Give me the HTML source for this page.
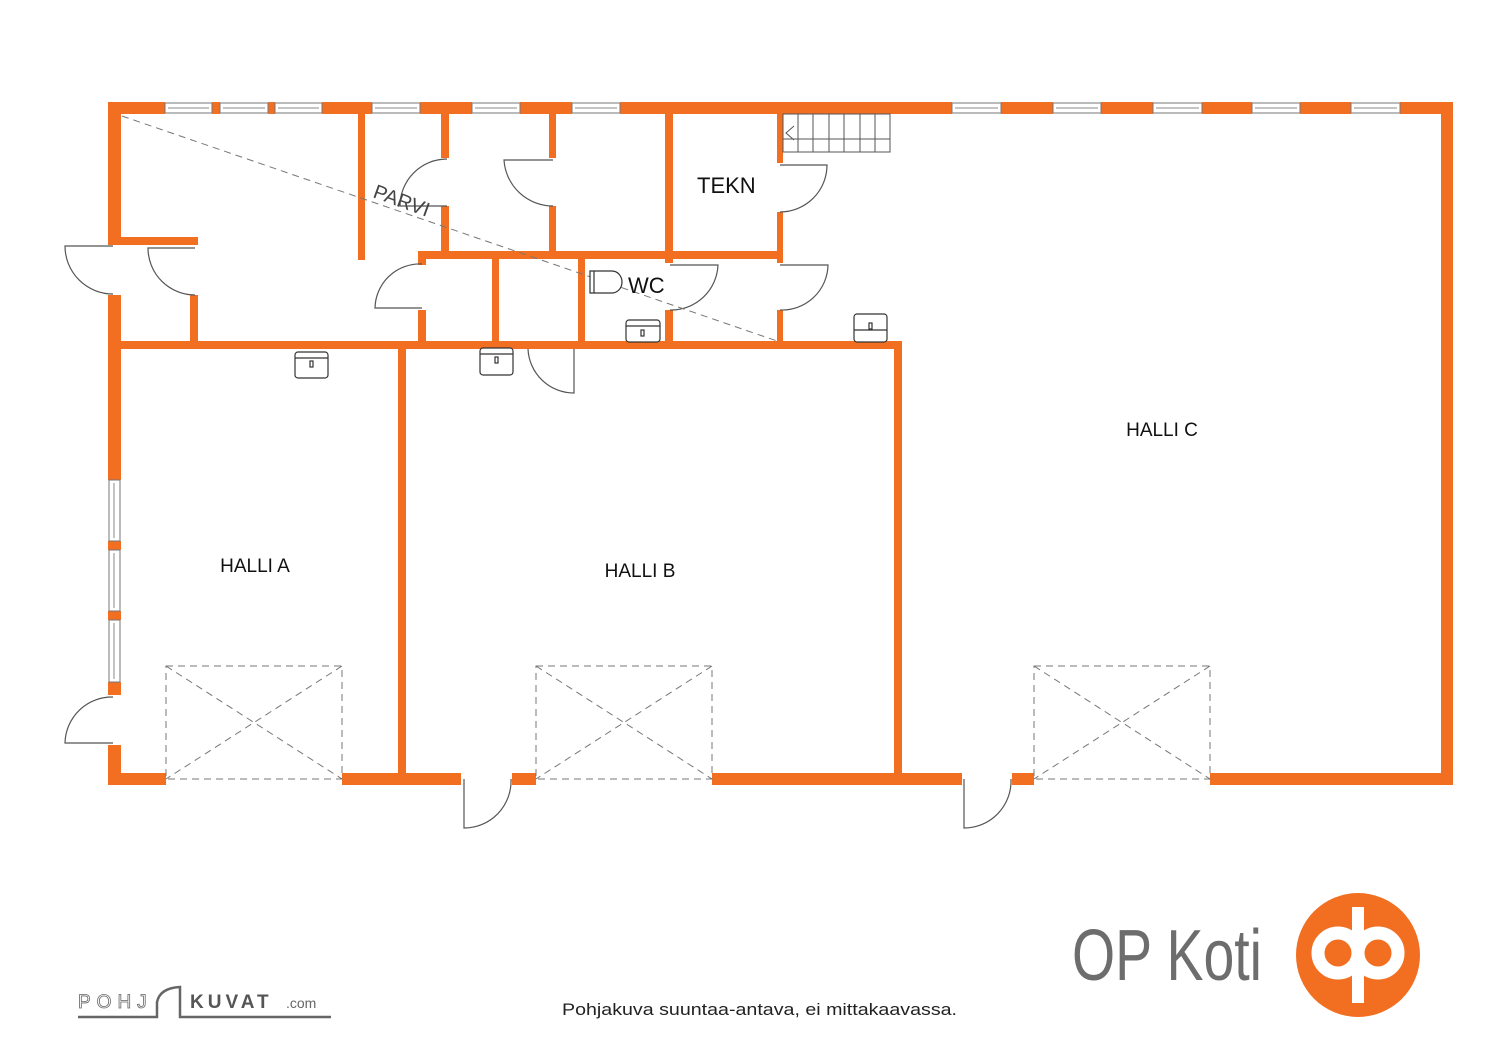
<!DOCTYPE html>
<html><head><meta charset="utf-8"><style>
html,body{margin:0;padding:0;background:#fff;}
svg{display:block;}
text{font-family:"Liberation Sans",sans-serif;}
</style></head><body>
<svg width="1500" height="1061" viewBox="0 0 1500 1061" xmlns="http://www.w3.org/2000/svg">
<g fill="#F26F21">
<rect x="108" y="102" width="57" height="12"/>
<rect x="212" y="102" width="8" height="12"/>
<rect x="268" y="102" width="7" height="12"/>
<rect x="322" y="102" width="50" height="12"/>
<rect x="420" y="102" width="52" height="12"/>
<rect x="520" y="102" width="52" height="12"/>
<rect x="620" y="102" width="332" height="12"/>
<rect x="1001" y="102" width="52" height="12"/>
<rect x="1101" y="102" width="52" height="12"/>
<rect x="1202" y="102" width="50" height="12"/>
<rect x="1300" y="102" width="51" height="12"/>
<rect x="1400" y="102" width="53" height="12"/>
<rect x="1441" y="102" width="12" height="683"/>
<rect x="108" y="773" width="58" height="12"/>
<rect x="342" y="773" width="119" height="12"/>
<rect x="512" y="773" width="24" height="12"/>
<rect x="712" y="773" width="250" height="12"/>
<rect x="1012" y="773" width="22" height="12"/>
<rect x="1210" y="773" width="243" height="12"/>
<rect x="108" y="102" width="13" height="143"/>
<rect x="108" y="295" width="13" height="185"/>
<rect x="108" y="541" width="13" height="9"/>
<rect x="108" y="611" width="13" height="9"/>
<rect x="108" y="682" width="13" height="13"/>
<rect x="108" y="745" width="13" height="40"/>
<rect x="108" y="341" width="794" height="8"/>
<rect x="398" y="341" width="8" height="437"/>
<rect x="894" y="341" width="8" height="437"/>
<rect x="108" y="237" width="90" height="8"/>
<rect x="190" y="295" width="8" height="50"/>
<rect x="358" y="114" width="7" height="146"/>
<rect x="441" y="114" width="8" height="44"/>
<rect x="441" y="206" width="8" height="49"/>
<rect x="418" y="251" width="364" height="8"/>
<rect x="549" y="114" width="7" height="44"/>
<rect x="549" y="206" width="7" height="49"/>
<rect x="665" y="114" width="8" height="149"/>
<rect x="665" y="310" width="8" height="35"/>
<rect x="777" y="114" width="6" height="49"/>
<rect x="777" y="212" width="6" height="51"/>
<rect x="777" y="310" width="6" height="35"/>
<rect x="418" y="251" width="8" height="14"/>
<rect x="418" y="310" width="8" height="35"/>
<rect x="492" y="255" width="7" height="90"/>
<rect x="578" y="255" width="7" height="90"/>
</g>
<g fill="#fff" stroke="#777" stroke-width="1">
<rect x="165" y="103" width="47" height="10"/><rect x="220" y="103" width="48" height="10"/><rect x="275" y="103" width="47" height="10"/>
<rect x="372" y="103" width="48" height="10"/><rect x="472" y="103" width="48" height="10"/><rect x="572" y="103" width="48" height="10"/>
<rect x="952" y="103" width="49" height="10"/><rect x="1053" y="103" width="48" height="10"/><rect x="1153" y="103" width="49" height="10"/><rect x="1252" y="103" width="48" height="10"/><rect x="1351" y="103" width="49" height="10"/>
<rect x="109" y="480" width="11" height="61"/><rect x="109" y="550" width="11" height="61"/><rect x="109" y="620" width="11" height="62"/>
</g>
<g stroke="#888" stroke-width="1">
<line x1="168" y1="108" x2="209" y2="108"/><line x1="223" y1="108" x2="265" y2="108"/><line x1="278" y1="108" x2="319" y2="108"/>
<line x1="375" y1="108" x2="417" y2="108"/><line x1="475" y1="108" x2="517" y2="108"/><line x1="575" y1="108" x2="617" y2="108"/>
<line x1="955" y1="108" x2="998" y2="108"/><line x1="1056" y1="108" x2="1098" y2="108"/><line x1="1156" y1="108" x2="1199" y2="108"/><line x1="1255" y1="108" x2="1297" y2="108"/><line x1="1354" y1="108" x2="1397" y2="108"/>
<line x1="114" y1="483" x2="114" y2="538"/><line x1="114" y1="553" x2="114" y2="608"/><line x1="114" y1="623" x2="114" y2="679"/>
</g>
<g fill="none" stroke="#555" stroke-width="1.2">
<path d="M113 246 H65 A48 48 0 0 0 113 294"/>
<path d="M195 248 H148 A47 47 0 0 0 195 295"/>
<path d="M447 159 A47 47 0 0 0 400 206 H447"/>
<path d="M553 160 H504 A49 49 0 0 0 553 206"/>
<path d="M422 264 A45 45 0 0 0 375 308 H422"/>
<path d="M780 165 H827 A47 47 0 0 1 780 212"/>
<path d="M670 265 H718 A47 47 0 0 1 670 310"/>
<path d="M780 265 H828 A46 46 0 0 1 780 310"/>
<path d="M528 349 A46 46 0 0 0 574 393 V349"/>
<path d="M113 697 A47 47 0 0 0 65 743 H113"/>
<path d="M511 779 A47 47 0 0 1 464 828 V779"/>
<path d="M1011 779 A47 47 0 0 1 964 828 V779"/>
</g>
<g fill="none" stroke="#777" stroke-width="1" stroke-dasharray="7,5">
<line x1="122" y1="116" x2="780" y2="342"/>
<rect x="166" y="666" width="176" height="113"/><line x1="166" y1="666" x2="342" y2="779"/><line x1="342" y1="666" x2="166" y2="779"/>
<rect x="536" y="666" width="176" height="113"/><line x1="536" y1="666" x2="712" y2="779"/><line x1="712" y1="666" x2="536" y2="779"/>
<rect x="1034" y="666" width="176" height="113"/><line x1="1034" y1="666" x2="1210" y2="779"/><line x1="1210" y1="666" x2="1034" y2="779"/>
</g>
<g fill="none" stroke="#555" stroke-width="1">
<rect x="783" y="114" width="107" height="38"/>
<line x1="798" y1="114" x2="798" y2="152"/><line x1="813" y1="114" x2="813" y2="152"/><line x1="829" y1="114" x2="829" y2="152"/><line x1="844" y1="114" x2="844" y2="152"/><line x1="860" y1="114" x2="860" y2="152"/><line x1="875" y1="114" x2="875" y2="152"/>
<line x1="783" y1="139" x2="890" y2="139"/>
<path d="M794 126 L786 133 L794 140"/>
</g>
<g fill="#fff" stroke="#333" stroke-width="1.2">
<rect x="295" y="352" width="33" height="26" rx="3"/><rect x="480" y="348" width="33" height="27" rx="3"/>
<rect x="626" y="320" width="34" height="22" rx="3"/><rect x="854" y="314" width="33" height="28" rx="3"/>
<path d="M590 271 H612 A10 11 0 0 1 612 293 H590 Z"/><line x1="594" y1="271" x2="594" y2="293"/>
</g>
<g stroke="#333" stroke-width="1.2">
<line x1="295" y1="358" x2="328" y2="358"/><line x1="480" y1="354" x2="513" y2="354"/><line x1="626" y1="326" x2="660" y2="326"/><line x1="854" y1="330" x2="887" y2="330"/>
<rect x="310" y="361" width="3" height="6" fill="none"/><rect x="495" y="357" width="3" height="6" fill="none"/><rect x="641" y="330" width="3" height="6" fill="none"/><rect x="869" y="323" width="3" height="6" fill="none"/>
</g>
<text x="372" y="197" font-size="20" fill="#444" transform="rotate(20 372 197)">PARVI</text>
<text x="697" y="193" font-size="22" fill="#111">TEKN</text>
<text x="628" y="293" font-size="22" fill="#111">WC</text>
<text x="255" y="572" font-size="19" fill="#111" text-anchor="middle">HALLI A</text>
<text x="640" y="577" font-size="19" fill="#111" text-anchor="middle">HALLI B</text>
<text x="1162" y="436" font-size="19" fill="#111" text-anchor="middle">HALLI C</text>
<text x="562" y="1015" font-size="17" fill="#222" textLength="395" lengthAdjust="spacingAndGlyphs">Pohjakuva suuntaa-antava, ei mittakaavassa.</text>
<text x="1072" y="980" font-size="72" fill="#6d6d6d" textLength="190" lengthAdjust="spacingAndGlyphs">OP Koti</text>
<circle cx="1358" cy="955" r="62" fill="#F26F21"/>
<g fill="none" stroke="#fff" stroke-width="13">
<circle cx="1338" cy="953" r="20"/><circle cx="1378" cy="953" r="20"/>
</g>
<rect x="1352" y="907" width="12" height="96" fill="#fff"/>
<text x="78" y="1008" font-size="19" fill="#fff" stroke="#666" stroke-width="0.8" letter-spacing="6">POHJ</text>
<text x="190" y="1008" font-size="19" font-weight="bold" fill="#555" letter-spacing="4">KUVAT</text>
<text x="286" y="1008" font-size="14" fill="#666">.com</text>
<path d="M78 1017 H157 V1002 Q160 988 180 987 V1017 H331" fill="none" stroke="#666" stroke-width="2.5"/>
</svg>
</body></html>
